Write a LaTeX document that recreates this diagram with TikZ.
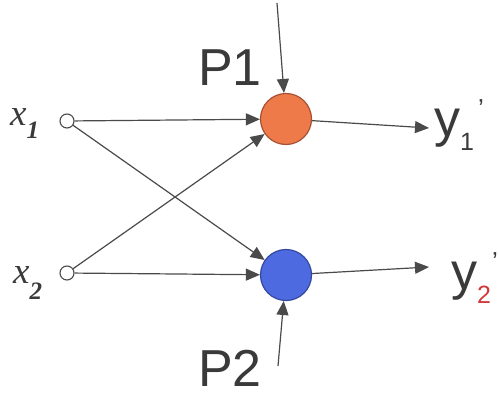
\documentclass[tikz,border=0pt]{standalone}
\usepackage{fontspec}
\setmainfont{Liberation Sans}
\newfontfamily\serifit{Liberation Serif}
\usetikzlibrary{arrows.meta}
\definecolor{linec}{HTML}{4A4A4A}
\definecolor{orangefill}{HTML}{EE7A4A}
\definecolor{orangeline}{HTML}{A85034}
\definecolor{bluefill}{HTML}{4E6AE0}
\definecolor{blueline}{HTML}{34489E}
\definecolor{txt}{HTML}{3A3A3A}
\definecolor{subred}{HTML}{D03A3A}
\tikzset{
  conn/.style={draw=linec, line width=1.2pt, -{Triangle[length=14pt,width=12pt]}},
  inputnode/.style={circle, draw=linec, fill=white, line width=1.1pt, minimum size=14pt, inner sep=0pt},
  neuron/.style={circle, line width=1.2pt, minimum size=51pt, inner sep=0pt},
  lab/.style={inner sep=0pt, text=txt, font=\fontsize{52}{52}\selectfont},
  xlab/.style={inner sep=0pt, text=txt, font=\serifit\itshape\fontsize{37}{37}\selectfont}
}
\begin{document}
\begin{tikzpicture}[x=1pt,y=-1pt]
\useasboundingbox[fill=white] (0,0) rectangle (498,396);
% nodes
\node[inputnode] (x1) at (67,121) {};
\node[inputnode] (x2) at (67,273) {};
\node[neuron, fill=orangefill, draw=orangeline] (n1) at (286,119) {};
\node[neuron, fill=bluefill, draw=blueline] (n2) at (286,275) {};
\coordinate (p1s) at (277,3);
\coordinate (p2s) at (278,366);
\coordinate (o1) at (429,128);
\coordinate (o2) at (429,267);
% labels
\node[xlab, anchor=base west] (lx1) at (10,125) {x\raisebox{-13pt}{\fontsize{25}{25}\selectfont\bfseries 1}};
\node[xlab, anchor=base west] (lx2) at (13,283) {x\raisebox{-16pt}{\fontsize{25}{25}\selectfont\bfseries 2}};
\node[lab, anchor=base west] (lp1) at (198,85) {P1};
\node[lab, anchor=base west] (lp2) at (198,386) {P2};
\node[lab, anchor=base west] (ly1) at (434,136) {y\raisebox{-14pt}{\fontsize{25}{25}\selectfont 1}\hspace{4pt}\raisebox{19pt}{\fontsize{26}{26}\selectfont '}};
\node[lab, anchor=base west] (ly2) at (451,289) {y\raisebox{-14pt}{\fontsize{25}{25}\selectfont\color{subred}2}\hspace{1pt}\raisebox{19pt}{\fontsize{26}{26}\selectfont '}};
% connectors
\draw[conn] (x1) -- (n1);
\draw[conn] (x1) -- (n2);
\draw[conn] (x2) -- (n1);
\draw[conn] (x2) -- (n2);
\draw[conn] (n1) -- (o1);
\draw[conn] (n2) -- (o2);
\draw[conn] (p1s) -- (n1);
\draw[conn] (p2s) -- (n2);
\end{tikzpicture}
\end{document}
